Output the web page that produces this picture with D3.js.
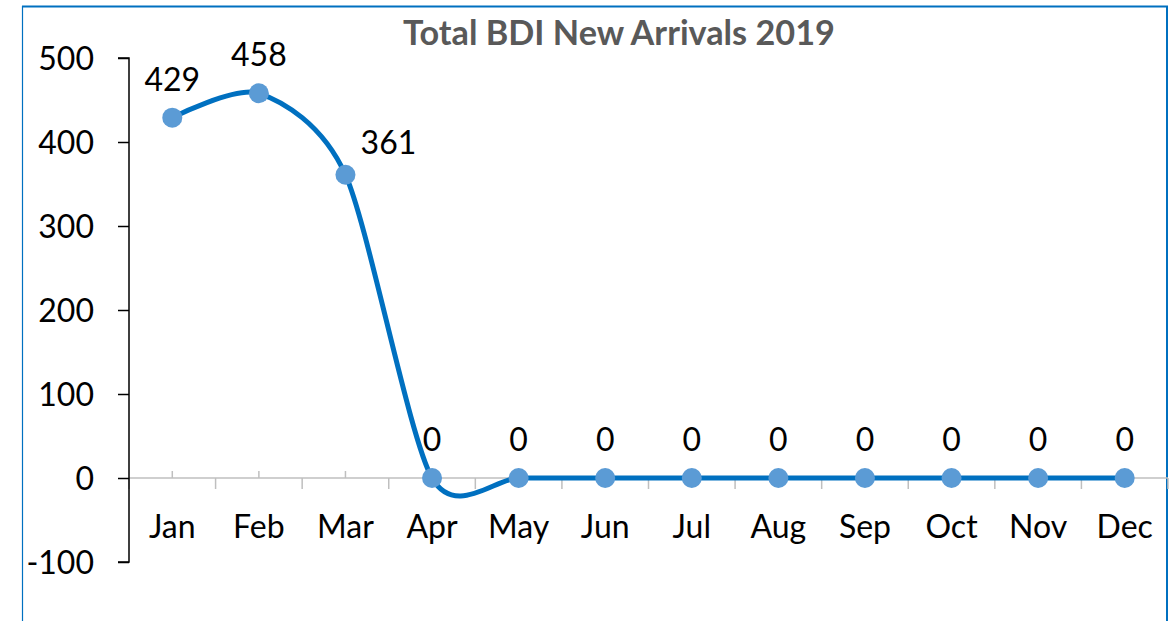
<!DOCTYPE html>
<html>
<head>
<meta charset="utf-8">
<script src="https://cdn.jsdelivr.net/npm/d3@7"></script>
<style>
  html, body { margin: 0; padding: 0; background: #fff; }
  svg { display: block; }
  text { font-family: Lato, "Open Sans", sans-serif; }
</style>
</head>
<body>
<svg id="chart" width="1173" height="621"></svg>
<script>
const months = ["Jan","Feb","Mar","Apr","May","Jun","Jul","Aug","Sep","Oct","Nov","Dec"];
const arrivals = [429, 458, 361, 0, 0, 0, 0, 0, 0, 0, 0, 0];
const yTicks = [-100, 0, 100, 200, 300, 400, 500];
const titleText = "Total BDI New Arrivals 2019";

const svg = d3.select("#chart");
const W = 1173, H = 621;
const plot = { left: 129, right: 1168, top: 58, bottom: 562 };

// frame
const frameColor = "#0070C0";
svg.append("line").attr("x1", 22.5).attr("x2", 22.5).attr("y1", 6).attr("y2", H)
  .attr("stroke", frameColor).attr("stroke-width", 1.2);
svg.append("line").attr("x1", 22).attr("x2", 1168).attr("y1", 6.5).attr("y2", 6.5)
  .attr("stroke", frameColor).attr("stroke-width", 2);
svg.append("line").attr("x1", 1167).attr("x2", 1167).attr("y1", 6).attr("y2", H)
  .attr("stroke", frameColor).attr("stroke-width", 2);

const x = d3.scaleBand().domain(months).range([plot.left, plot.right]);
const cx = m => x(m) + x.bandwidth() / 2;
const y = d3.scaleLinear().domain([-100, 500]).range([plot.bottom, plot.top]);

// x axis (category) line with ticks
const xg = svg.append("g");
xg.append("line").attr("x1", plot.left).attr("x2", plot.right)
  .attr("y1", y(0)).attr("y2", y(0)).attr("stroke", "#BFBFBF").attr("stroke-width", 1.5);
const bounds = months.map(m => x(m)).concat([plot.right]);
xg.selectAll(".bt").data(bounds).join("line")
  .attr("x1", d => d).attr("x2", d => d)
  .attr("y1", y(0)).attr("y2", y(0) + 11)
  .attr("stroke", "#BFBFBF").attr("stroke-width", 1.5);
xg.selectAll(".ct").data(months).join("line")
  .attr("x1", d => cx(d)).attr("x2", d => cx(d))
  .attr("y1", y(0)).attr("y2", y(0) - 7)
  .attr("stroke", "#BFBFBF").attr("stroke-width", 1.5);
xg.selectAll(".ml").data(months).join("text")
  .attr("x", d => cx(d)).attr("y", 538)
  .attr("text-anchor", "middle").attr("font-size", 32).attr("fill", "#000")
  .text(d => d);

// y axis
const yAxis = d3.axisLeft(y).tickValues(yTicks).tickSize(11).tickPadding(24)
  .tickFormat(d => String(d));
const yg = svg.append("g").attr("transform", `translate(${plot.left},0)`).call(yAxis);
yg.select(".domain").attr("stroke", "#000").attr("stroke-width", 1.5)
  .attr("d", `M-11,${y(500)}H0V${y(-100)}H-11`);
yg.selectAll(".tick line").attr("stroke", "#000").attr("stroke-width", 1.5);
yg.selectAll(".tick text").attr("font-size", 32).attr("fill", "#000")
  .attr("font-family", "Lato, 'Open Sans', sans-serif").attr("dy", "0.36em");

// line
const line = d3.line()
  .x((d, i) => cx(months[i]))
  .y(d => y(d))
  .curve(d3.curveCardinal.tension(0.2));
svg.append("path").datum(arrivals)
  .attr("d", line).attr("fill", "none")
  .attr("stroke", "#0070C0").attr("stroke-width", 5)
  .attr("stroke-linejoin", "round").attr("stroke-linecap", "round");

// markers
svg.selectAll(".pt").data(arrivals).join("circle")
  .attr("cx", (d, i) => cx(months[i])).attr("cy", d => y(d)).attr("r", 10)
  .attr("fill", "#5B9BD5");

// data labels
svg.selectAll(".dl").data(arrivals).join("text")
  .attr("x", (d, i) => cx(months[i]) + (i === 2 ? 43 : 0))
  .attr("y", (d, i) => y(d) - (i === 2 ? 21 : 27))
  .attr("text-anchor", "middle").attr("font-size", 32).attr("fill", "#000")
  .text(d => d);

// title
const title = svg.append("text").attr("x", 619).attr("y", 45)
  .attr("text-anchor", "middle").attr("font-weight", "bold")
  .attr("font-size", 30).attr("fill", "#595959").text(titleText);
const tw = title.node().getComputedTextLength();
title.attr("font-size", 30 * 432 / tw);
</script>
</body>
</html>
